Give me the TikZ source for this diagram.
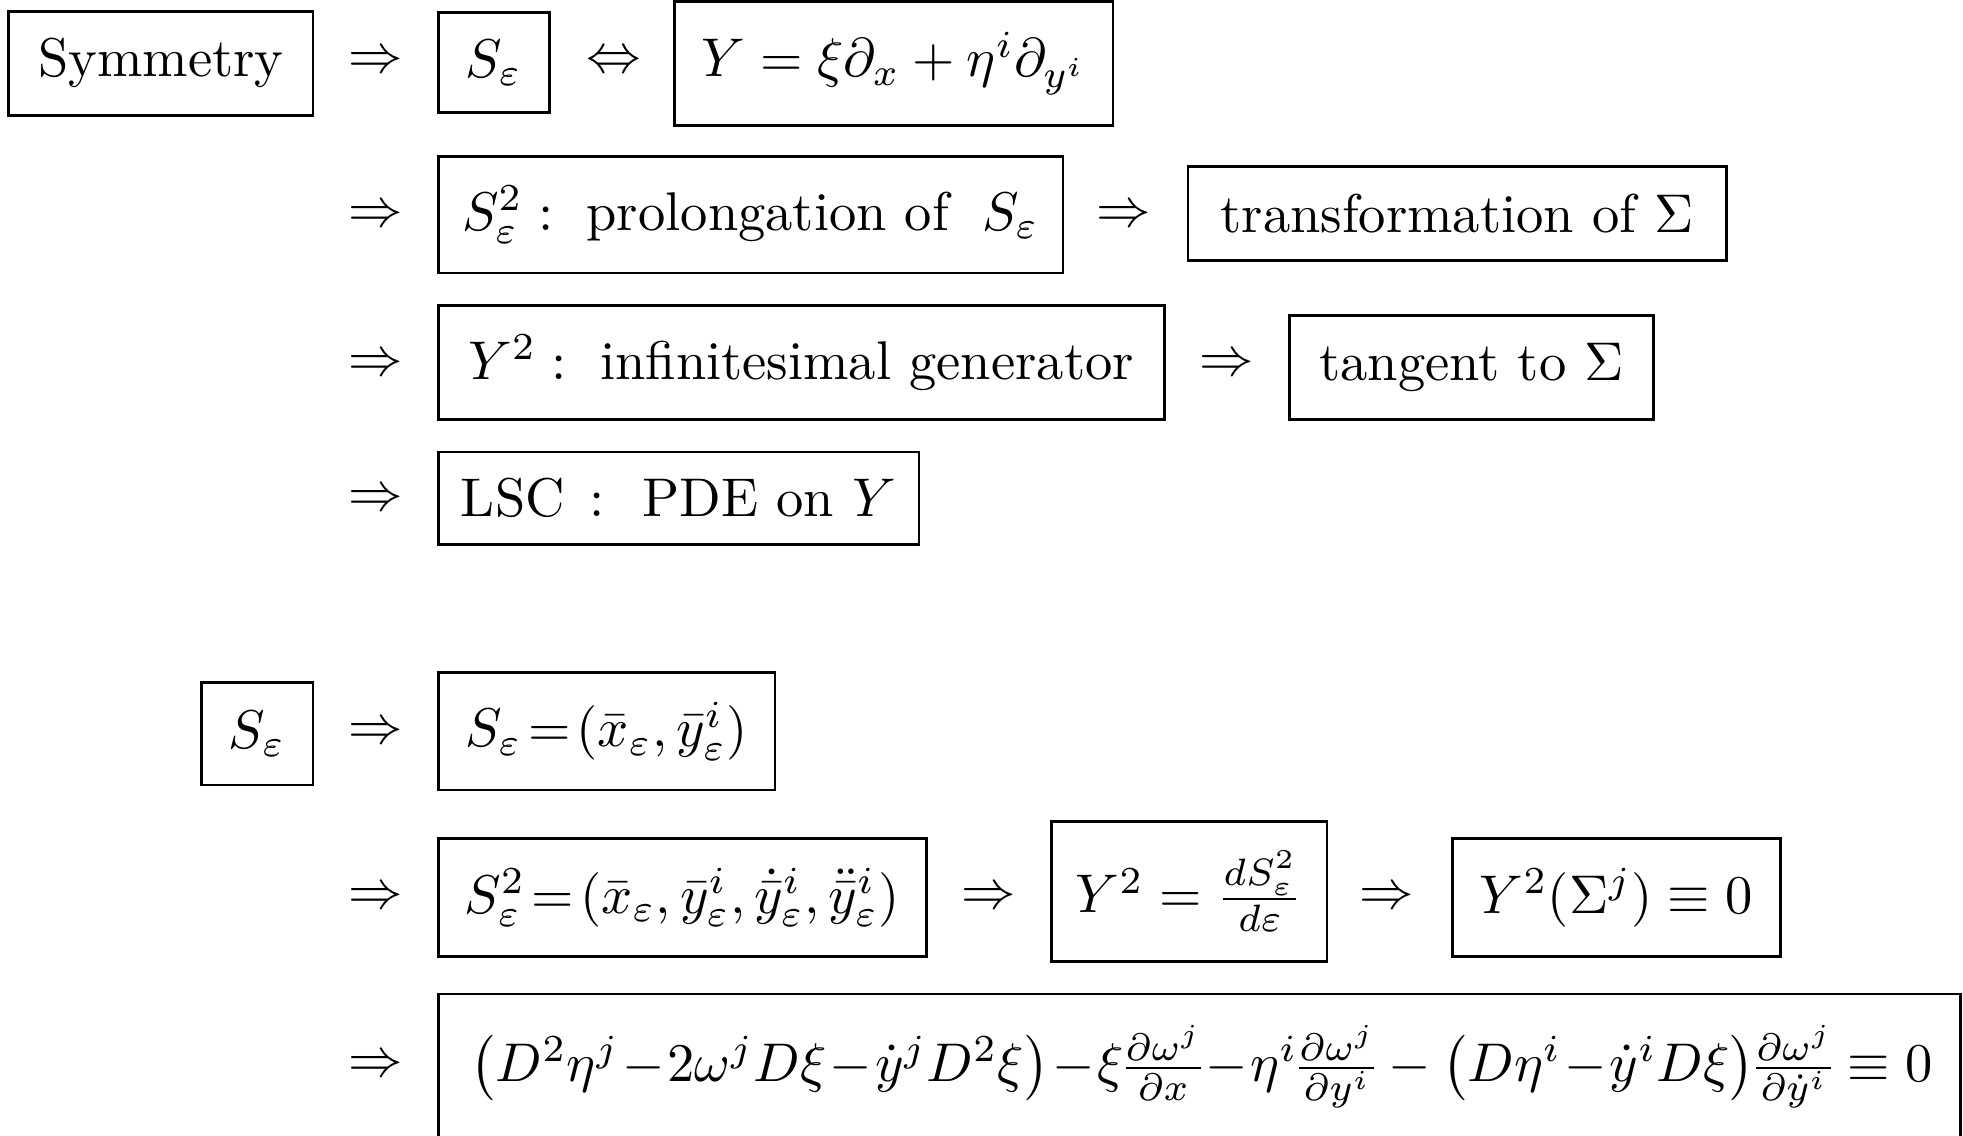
\documentclass[tikz,border=0pt]{standalone}
\usepackage{amsmath}
\begin{document}
\begin{tikzpicture}[x=0.2296pt,y=-0.2296pt,
  bx/.style 2 args={draw,line width=0.5pt,inner sep=0pt,
    minimum width=#1*0.2296pt,minimum height=#2*0.2296pt},
  sym/.style={inner sep=0pt}]
\useasboundingbox (0,0) rectangle (1568,907);
% row 1
\node[bx={243}{83}] (sym) at (128.5,50.5) {Symmetry};
\node[sym] (a1) at (300,50) {$\Rightarrow$};
\node[bx={89}{80}] (s1) at (394.5,50) {$S_\varepsilon$};
\node[sym] (a2) at (490,50) {$\Leftrightarrow$};
\node[bx={350}{99}] (y1) at (714,50.5) {$Y=\xi\partial_x+\eta^i\partial_{y^i}$};
% row 2
\node[sym] (a3) at (300,173) {$\Rightarrow$};
\node[bx={499}{93}] (pr) at (599.5,171.5) {$S^2_\varepsilon:\;$ prolongation of $\;S_\varepsilon$};
\node[sym] (a4) at (898,173) {$\Rightarrow$};
\node[bx={430}{75}] (tr) at (1164,170.5) {transformation of $\Sigma$};
% row 3
\node[sym] (a5) at (300,292) {$\Rightarrow$};
\node[bx={580}{91}] (ig) at (640,289.5) {$Y^2:\;$ infinitesimal generator};
\node[sym] (a6) at (980,292) {$\Rightarrow$};
\node[bx={291}{83}] (tg) at (1175.5,293.5) {tangent to $\Sigma$};
% row 4
\node[sym] (a7) at (300,400) {$\Rightarrow$};
\node[bx={384}{74}] (lsc) at (542,398) {LSC\hspace{4.5pt}$:$\hspace{7pt}PDE on $Y$};
% row 5
\node[bx={89}{82}] (s2) at (205.5,586) {$S_\varepsilon$};
\node[sym] (a8) at (300,586) {$\Rightarrow$};
\node[bx={269}{94}] (se) at (484.5,584) {$S_\varepsilon\!=\!(\bar x_\varepsilon,\bar y^i_\varepsilon)$};
% row 6
\node[sym] (a9) at (300,718) {$\Rightarrow$};
\node[bx={390}{94}] (s2e) at (545,717) {$S^2_\varepsilon\!=\!(\bar x_\varepsilon,\bar y^i_\varepsilon,\dot{\bar y}^i_\varepsilon,\ddot{\bar y}^i_\varepsilon)$};
\node[sym] (a10) at (790,718) {$\Rightarrow$};
\node[bx={220}{112}] (y2) at (950,712) {$Y^2=\frac{dS^2_\varepsilon}{d\varepsilon}$};
\node[sym] (a11) at (1108,718) {$\Rightarrow$};
\node[bx={262}{94}] (ys) at (1291,717) {$Y^2(\Sigma^j)\equiv0$};
% row 7
\node[sym] (a12) at (300,852) {$\Rightarrow$};
\node[bx={1216}{116}] (lsceq) at (958,852) {};
\node[sym] (eq) at (960,852) {\nulldelimiterspace=0.3pt$\bigl(D^2\eta^j\!-\!2\omega^jD\xi\!-\!\dot y^jD^2\xi\bigr)\!-\!\xi{\tfrac{\partial\omega^j}{\partial x}}\!-\!\eta^i{\tfrac{\partial\omega^j}{\partial y^i}}-\bigl(D\eta^i\!-\!\dot y^iD\xi\bigr){\tfrac{\partial\omega^j}{\partial \dot y^i}}\equiv0$};
\end{tikzpicture}
\end{document}
